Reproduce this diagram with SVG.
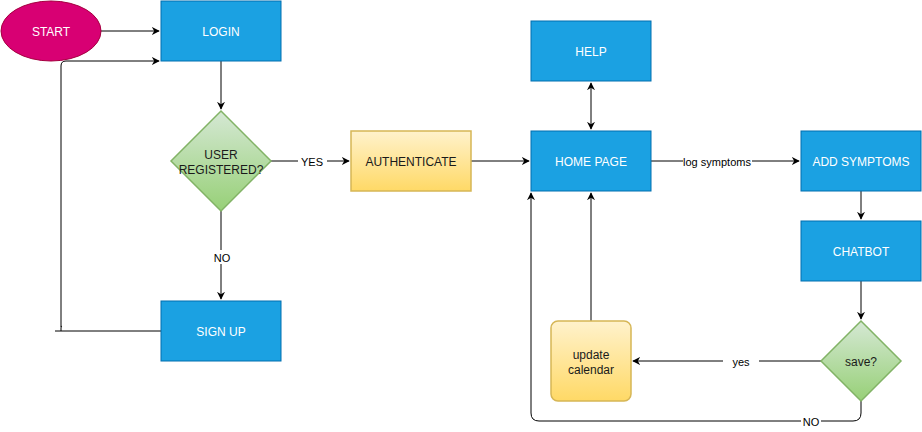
<svg xmlns="http://www.w3.org/2000/svg" width="922" height="432" viewBox="0 0 922 432">
<defs>
<linearGradient id="gGreen" x1="0" y1="0" x2="0" y2="1"><stop offset="0" stop-color="#d5e8d4"/><stop offset="1" stop-color="#97d077"/></linearGradient>
<linearGradient id="gYellow" x1="0" y1="0" x2="0" y2="1"><stop offset="0" stop-color="#fff2cc"/><stop offset="1" stop-color="#ffd966"/></linearGradient>
<marker id="arr" viewBox="0 0 10 10" refX="9" refY="5" markerWidth="8" markerHeight="8" markerUnits="userSpaceOnUse" orient="auto-start-reverse">
<path d="M0,0 L10,5 L0,10 L3,5 Z" fill="#000"/>
</marker>
<style>
text{font-family:"Liberation Sans",Arial,sans-serif;font-size:12px;text-anchor:middle;dominant-baseline:central}
.blue rect{fill:#1ba1e2;stroke:#006eaf;stroke-width:1}
.blue text{fill:#fff}
.dec path{fill:url(#gGreen);stroke:#82b366;stroke-width:1.5}
.yel rect{fill:url(#gYellow);stroke:#d6b656;stroke-width:1.5}
.dark{fill:#1a1a1a}
#edges path{fill:none;stroke:#000;stroke-width:1}
.lbl{font-size:11px;fill:#000}
.lblbg{fill:#fff}
</style>
</defs>
<g id="edges">
<path d="M101,31 H159" marker-end="url(#arr)"/>
<path d="M161,331 H55 M61,331 V328 Q61,326 62,326 M61,327 V66 Q61,61 66,61 H159" marker-end="url(#arr)"/>
<path d="M221,61 V109" marker-end="url(#arr)"/>
<path d="M271,161 H349" marker-end="url(#arr)"/>
<path d="M221,211 V299" marker-end="url(#arr)"/>
<path d="M471,161 H529" marker-end="url(#arr)"/>
<path d="M591,83 V129" marker-start="url(#arr)" marker-end="url(#arr)"/>
<path d="M651,161 H799" marker-end="url(#arr)"/>
<path d="M861,191 V219" marker-end="url(#arr)"/>
<path d="M861,281 V319" marker-end="url(#arr)"/>
<path d="M821,361 H633" marker-end="url(#arr)"/>
<path d="M591,321 V193" marker-end="url(#arr)"/>
<path d="M861,401 V413 Q861,421 853,421 H539 Q531,421 531,413 V193" marker-end="url(#arr)"/>
<rect class="lblbg" x="298" y="154" width="29" height="14"/>
<text class="lbl" x="312" y="162">YES</text>
<rect class="lblbg" x="211" y="250" width="22" height="14"/>
<text class="lbl" x="222" y="258">NO</text>
<rect class="lblbg" x="683" y="154" width="69" height="14"/>
<text class="lbl" x="717" y="162">log symptoms</text>
<rect class="lblbg" x="723" y="353" width="36" height="16"/>
<text class="lbl" x="741" y="362">yes</text>
<rect class="lblbg" x="801" y="414" width="20" height="14"/>
<text class="lbl" x="811" y="422">NO</text>
</g>
<g id="start">
<ellipse cx="51" cy="31" rx="50" ry="30" fill="#d80073" stroke="#a50040" stroke-width="1"/>
<text x="51" y="32" fill="#fff">START</text>
</g>
<g id="login" class="blue"><rect x="161" y="1" width="120" height="60"/><text x="221" y="32">LOGIN</text></g>
<g id="user-registered" class="dec"><path d="M221,111 L271,161 L221,211 L171,161 Z"/><text class="dark" x="221" y="155">USER</text><text class="dark" x="221" y="170">REGISTERED?</text></g>
<g id="authenticate" class="yel"><rect x="351" y="131" width="120" height="60"/><text class="dark" x="411" y="162">AUTHENTICATE</text></g>
<g id="signup" class="blue"><rect x="161" y="301" width="120" height="60"/><text x="221" y="332">SIGN UP</text></g>
<g id="help" class="blue"><rect x="531" y="21" width="120" height="60"/><text x="591" y="52">HELP</text></g>
<g id="homepage" class="blue"><rect x="531" y="131" width="120" height="60"/><text x="591" y="162">HOME PAGE</text></g>
<g id="addsymptoms" class="blue"><rect x="801" y="131" width="120" height="60"/><text x="861" y="162">ADD SYMPTOMS</text></g>
<g id="chatbot" class="blue"><rect x="801" y="221" width="120" height="60"/><text x="861" y="252">CHATBOT</text></g>
<g id="save" class="dec"><path d="M861,321 L901,361 L861,401 L821,361 Z"/><text class="dark" x="861" y="362">save?</text></g>
<g id="updatecalendar" class="yel"><rect x="551" y="321" width="80" height="80" rx="7"/><text class="dark" x="591" y="355">update</text><text class="dark" x="591" y="370">calendar</text></g>
</svg>
